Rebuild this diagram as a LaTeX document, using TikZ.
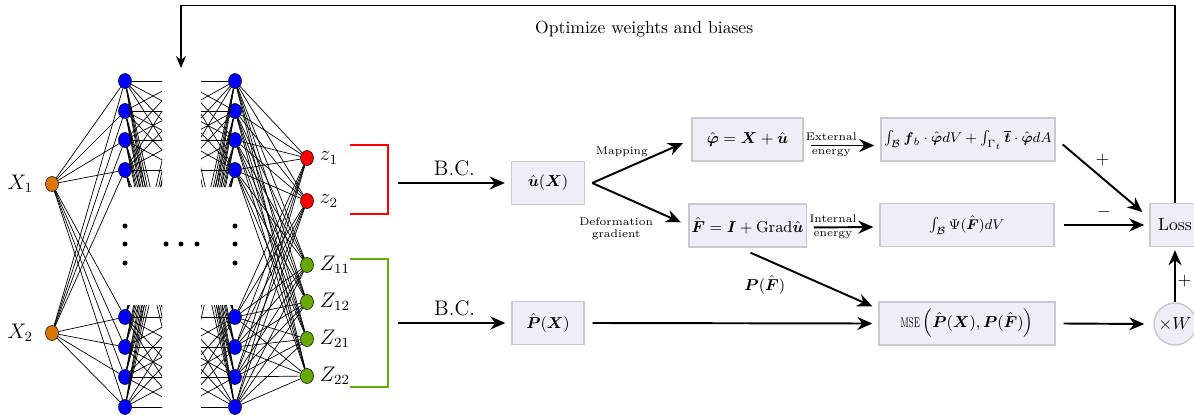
\documentclass[tikz,border=0pt]{standalone}
\usepackage{amsmath, amssymb}
\usepackage{mathtools}
\usepackage{xcolor}
\usetikzlibrary{shapes.geometric}
\usetikzlibrary{arrows.meta}
\usetikzlibrary{positioning}
\definecolor{nodeorange}{RGB}{217,120,0}
\definecolor{nodegreen}{RGB}{102,170,0}
\definecolor{boxfill}{RGB}{238,238,248}
\definecolor{boxline}{RGB}{200,200,205}

\begin{document}
\begin{tikzpicture}[
		neuron/.style={ellipse, draw=black, line width=0.3pt, minimum width=0.26cm, minimum height=0.3cm, inner sep=0pt},
		wire/.style={line width=0.4pt},
		box/.style={rectangle, draw=boxline, fill=boxfill, line width=0.8pt, minimum height=0.86cm, inner xsep=1.5pt, font=\small},
		arr/.style={line width=1.1pt, -{Stealth[length=3mm, width=2.6mm]}},
		lbl/.style={font=\fontsize{6.3}{7}\selectfont, align=center, inner sep=1pt}
	]
					\useasboundingbox (0,0) rectangle (23.88,8.28);
					\foreach \y [count=\i] in {6.66,6.06,5.48,4.88,1.94,1.34,0.74,0.14} {
						\node[neuron, fill=blue] (a\i) at (2.5,\y) {};
						\coordinate (m\i) at (3.62,\y);
						\node[neuron, fill=blue] (b\i) at (4.7,\y) {};
					}
					\node[neuron, fill=nodeorange, label={[font=\large, label distance=0.12cm]left:$X_1$}] (x1) at (1.04,4.6) {};
					\node[neuron, fill=nodeorange, label={[font=\large, label distance=0.12cm]left:$X_2$}] (x2) at (1.04,1.62) {};
					\node[neuron, fill=red, label={[font=\large]right:$z_1$}] (z1) at (6.14,5.12) {};
					\node[neuron, fill=red, label={[font=\large]right:$z_2$}] (z2) at (6.14,4.26) {};
					\node[neuron, fill=nodegreen, label={[font=\large]right:$Z_{11}$}] (z3) at (6.14,2.98) {};
					\node[neuron, fill=nodegreen, label={[font=\large]right:$Z_{12}$}] (z4) at (6.14,2.24) {};
					\node[neuron, fill=nodegreen, label={[font=\large]right:$Z_{21}$}] (z5) at (6.14,1.5) {};
					\node[neuron, fill=nodegreen, label={[font=\large]right:$Z_{22}$}] (z6) at (6.14,0.76) {};
					\foreach \i in {1,...,8} {
						\draw[wire] (x1) -- (a\i);
						\draw[wire] (x2) -- (a\i);
						\foreach \j in {1,...,6}
							\draw[wire] (b\i) -- (z\j);
					}
					\begin{scope}
						\clip (2.4,4.54) rectangle (3.24,8.28) (2.4,0) rectangle (3.24,2.18) (4.02,4.54) rectangle (4.8,8.28) (4.02,0) rectangle (4.8,2.18);
						\foreach \i in {1,...,8}
							\foreach \j in {1,...,8} {
								\draw[wire] (a\i) -- (m\j);
								\draw[wire] (m\j) -- (b\i);
							}
					\end{scope}
					\foreach \y in {3.76,3.4,3.02} {
						\fill (2.5,\y) circle (0.05);
						\fill (4.7,\y) circle (0.05);
					}
					\foreach \x in {3.32,3.62,3.94}
						\fill (\x,3.4) circle (0.05);
					\draw[red, line width=1.4pt] (7.0,5.38) -| (7.76,4.0) -- (7.0,4.0);
					\draw[nodegreen, line width=1.4pt] (7.0,3.1) -| (7.76,0.54) -- (7.0,0.54);

					\node[box, minimum width=1.46cm] (ux) at (10.96,4.62) {$\hat{\boldsymbol{u}}(\boldsymbol{X})$};
					\node[box, minimum width=1.44cm] (px) at (10.96,1.82) {$\hat{\boldsymbol{P}}(\boldsymbol{X})$};
					\node[box, minimum width=2.22cm] (phi) at (14.95,5.49) {$\hat{\boldsymbol{\varphi}} = \boldsymbol{X} + \hat{\boldsymbol{u}}$};
					\node[box, minimum width=2.22cm] (fgrad) at (14.95,3.77) {$\hat{\boldsymbol{F}} = \boldsymbol{I} + \mathrm{Grad}\hat{\boldsymbol{u}}$};
					\node[box, minimum width=3.48cm, font=\footnotesize] (ext) at (19.36,5.49) {$\int_{\mathcal{B}} \boldsymbol{f}_b \cdot \hat{\boldsymbol{\varphi}} dV + \int_{\Gamma_t} \overline{\boldsymbol{t}} \cdot \hat{\boldsymbol{\varphi}} dA$};
					\node[box, minimum width=3.48cm, font=\footnotesize] (int) at (19.34,3.78) {$\int_{\mathcal{B}} \Psi(\hat{\boldsymbol{F}}) dV$};
					\node[box, minimum width=3.52cm] (mse) at (19.34,1.81) {$\text{\scalebox{0.6}[1]{\footnotesize MSE}}\left(\hat{\boldsymbol{P}}(\boldsymbol{X}), \boldsymbol{P}(\hat{\boldsymbol{F}})\right)$};
					\node[box, minimum width=1.0cm, font=\normalsize] (loss) at (23.5,3.78) {Loss};
					\node[circle, draw=boxline, fill=boxfill, line width=0.8pt, minimum size=0.84cm, inner sep=0pt] (xw) at (23.5,1.8) {$\times W$};

					\coordinate (bc1) at (7.96,4.62);
					\coordinate (bc2) at (7.96,1.82);
					\coordinate (split) at ([xshift=0.14cm]ux.east);
					\coordinate (ceil) at (3.62,8.17);
					\coordinate (top) at (3.62,6.92);

					\draw[arr, shorten >=0.12cm] (bc1) -- node[above, font=\large] {B.C.} (ux.west);
					\draw[arr, shorten >=0.12cm] (bc2) -- node[above, font=\large] {B.C.} (px.west);
					\draw[arr, shorten >=0.18cm] (split) -- node[lbl, pos=0.3, above=6pt] {Mapping} (phi.west);
					\draw[arr, shorten >=0.16cm] (split) -- node[lbl, pos=0.25, below=0.42cm] {Deformation\\gradient} (fgrad.west);
					\draw[arr, shorten <=0.14cm, shorten >=0.12cm] ([yshift=-0.12cm]phi.east) -- node[lbl, pos=0.36, above=1pt] {External} node[lbl, pos=0.36, below=1pt] {energy} ([yshift=-0.12cm]ext.west);
					\draw[arr, shorten <=0.14cm, shorten >=0.12cm] ([yshift=-0.04cm]fgrad.east) -- node[lbl, pos=0.36, above=1pt] {Internal} node[lbl, pos=0.36, below=1pt] {energy} ([yshift=-0.04cm]int.west);
					\draw[arr] ([shift={(0.14,-0.1)}]ext.east) -- node[above=0.1cm] {$+$} ([shift={(-0.14,0.26)}]loss.west);
					\draw[arr] ([xshift=0.18cm]int.east) -- node[above] {$-$} ([xshift=-0.1cm]loss.west);
					\draw[arr] ([shift={(0.06,-0.1)}]fgrad.south) -- node[pos=0.33, below left=-1pt, font=\small] {$\boldsymbol{P}(\hat{\boldsymbol{F}})$} ([shift={(-0.12,-0.1)}]mse.north west);
					\draw[arr] ([xshift=0.16cm]px.east) -- ([xshift=-0.12cm]mse.west);
					\draw[arr] ([xshift=0.16cm]mse.east) -- ([xshift=-0.18cm]xw.west);
					\draw[arr] (xw) -- node[right, inner sep=1pt, pos=0.4] {$+$} ([yshift=-0.06cm]loss.south);
					\draw[line width=0.8pt, -{Stealth[length=2.4mm, width=2mm]}] (loss.north) |- node[pos=0.767, below=0.3cm, inner sep=0pt] {Optimize weights and biases} (ceil) -- (top);
			\end{tikzpicture}
\end{document}
